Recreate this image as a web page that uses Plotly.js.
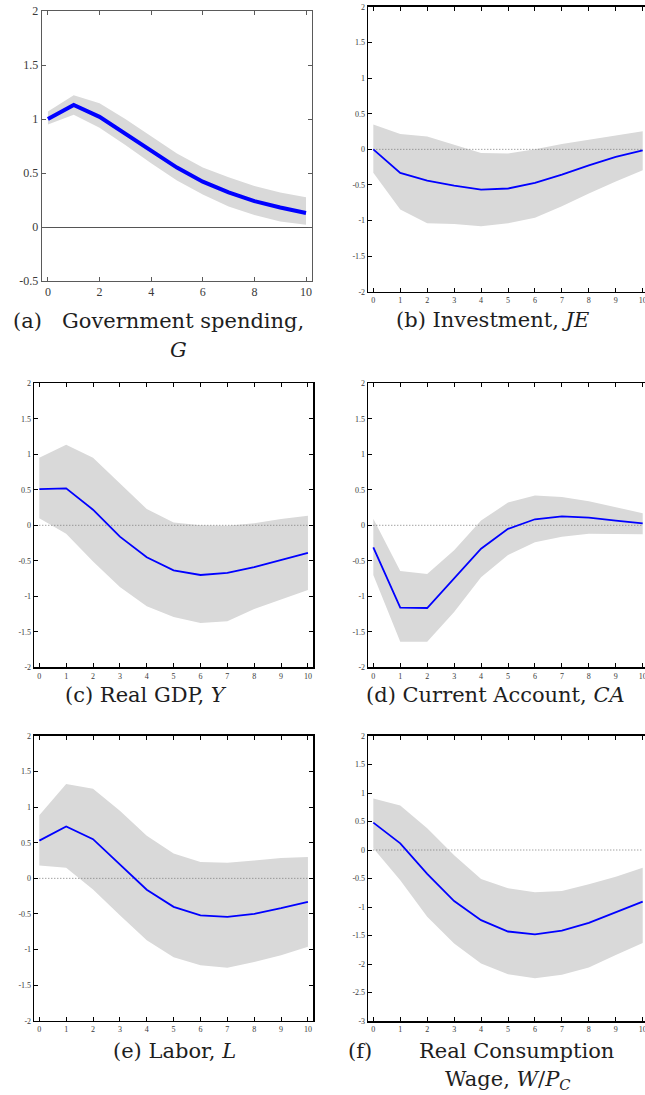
<!DOCTYPE html>
<html>
<head>
<meta charset="utf-8">
<script src="https://cdn.plot.ly/plotly-3.0.1.min.js"></script>
<style>
  html, body { margin: 0; padding: 0; background: #fff; }
  #chart { width: 645px; height: 1095px; }
</style>
</head>
<body>
<div id="chart"></div>
<script>
// ---- data ----
const periods = [0, 1, 2, 3, 4, 5, 6, 7, 8, 9, 10];

const govMid = [1.00, 1.13, 1.02, 0.86, 0.70, 0.55, 0.42, 0.32, 0.24, 0.18, 0.13];
const govUp  = [1.07, 1.22, 1.145, 1.00, 0.84, 0.68, 0.55, 0.46, 0.38, 0.32, 0.275];
const govLo  = [0.95, 1.04, 0.92, 0.76, 0.59, 0.43, 0.30, 0.19, 0.11, 0.05, 0.02];

const invMid = [0.00, -0.33, -0.44, -0.51, -0.565, -0.55, -0.47, -0.355, -0.225, -0.107, -0.014];
const invUp  = [0.35, 0.215, 0.18, 0.065, -0.05, -0.06, 0.00, 0.075, 0.135, 0.205, 0.255];
const invLo  = [-0.33, -0.845, -1.04, -1.05, -1.08, -1.04, -0.96, -0.80, -0.62, -0.45, -0.295];

const gdpMid = [0.51, 0.52, 0.22, -0.16, -0.45, -0.634, -0.70, -0.67, -0.59, -0.49, -0.39];
const gdpUp  = [0.95, 1.135, 0.95, 0.59, 0.23, 0.04, 0.00, -0.005, 0.03, 0.09, 0.135];
const gdpLo  = [0.10, -0.12, -0.51, -0.87, -1.14, -1.29, -1.375, -1.35, -1.18, -1.05, -0.91];

const caMid = [-0.31, -1.16, -1.165, -0.75, -0.33, -0.05, 0.085, 0.127, 0.108, 0.066, 0.028];
const caUp  = [0.094, -0.643, -0.685, -0.35, 0.066, 0.32, 0.42, 0.40, 0.34, 0.25, 0.17];
const caLo  = [-0.70, -1.64, -1.64, -1.22, -0.73, -0.42, -0.24, -0.16, -0.12, -0.12, -0.127];

const labMid = [0.53, 0.73, 0.55, 0.20, -0.16, -0.40, -0.52, -0.54, -0.50, -0.42, -0.33];
const labUp  = [0.885, 1.325, 1.26, 0.95, 0.60, 0.35, 0.23, 0.22, 0.25, 0.285, 0.30];
const labLo  = [0.18, 0.15, -0.155, -0.52, -0.87, -1.11, -1.22, -1.255, -1.175, -1.08, -0.96];

const wageMid = [0.48, 0.117, -0.42, -0.895, -1.23, -1.43, -1.48, -1.415, -1.28, -1.09, -0.905];
const wageUp  = [0.905, 0.78, 0.38, -0.09, -0.51, -0.67, -0.74, -0.72, -0.60, -0.47, -0.31];
const wageLo  = [0.03, -0.53, -1.17, -1.64, -1.99, -2.18, -2.25, -2.19, -2.06, -1.84, -1.63];

// tick labels
const xTickValsA = [0, 2, 4, 6, 8, 10];
const xTickTextA = ["0", "2", "4", "6", "8", "10"];
const xTickTextB = ["0", "1", "2", "3", "4", "5", "6", "7", "8", "9", "10"];
const yTickValsA = [-0.5, 0, 0.5, 1, 1.5, 2];
const yTickTextA = ["-0.5", "0", "0.5", "1", "1.5", "2"];
const yTickValsB = [-2, -1.5, -1, -0.5, 0, 0.5, 1, 1.5, 2];
const yTickTextB = ["-2", "-1.5", "-1", "-0.5", "0", "0.5", "1", "1.5", "2"];
const yTickValsF = [-3, -2.5, -2, -1.5, -1, -0.5, 0, 0.5, 1, 1.5, 2];
const yTickTextF = ["-3", "-2.5", "-2", "-1.5", "-1", "-0.5", "0", "0.5", "1", "1.5", "2"];

// ---- layout helpers ----
const W = 645, H = 1095;
const px = v => v / W;
const py = v => 1 - v / H;

const panels = [
  { mid: govMid, up: govUp, lo: govLo, style: 'a',
    xd: [41.7, 311.7], yd: [11, 281], xr: [-0.24, 10.22], yr: [-0.5, 2],
    xtv: xTickValsA, xtt: xTickTextA, ytv: yTickValsA, ytt: yTickTextA },
  { mid: invMid, up: invUp, lo: invLo, style: 'b',
    xd: [368.3, 645], yd: [7, 291.7], xr: [-0.186, 10.085], yr: [-2, 2],
    xtv: periods, xtt: xTickTextB, ytv: yTickValsB, ytt: yTickTextB, openRight: true },
  { mid: gdpMid, up: gdpUp, lo: gdpLo, style: 'b',
    xd: [34.3, 313.3], yd: [383.3, 667.3], xr: [-0.186, 10.2], yr: [-2, 2],
    xtv: periods, xtt: xTickTextB, ytv: yTickValsB, ytt: yTickTextB },
  { mid: caMid, up: caUp, lo: caLo, style: 'b',
    xd: [368.3, 645], yd: [383.3, 667.3], xr: [-0.186, 10.085], yr: [-2, 2],
    xtv: periods, xtt: xTickTextB, ytv: yTickValsB, ytt: yTickTextB, openRight: true },
  { mid: labMid, up: labUp, lo: labLo, style: 'b',
    xd: [34.3, 313.3], yd: [736, 1020.7], xr: [-0.186, 10.2], yr: [-2, 2],
    xtv: periods, xtt: xTickTextB, ytv: yTickValsB, ytt: yTickTextB },
  { mid: wageMid, up: wageUp, lo: wageLo, style: 'b',
    xd: [368.3, 645], yd: [736, 1021], xr: [-0.186, 10.085], yr: [-3, 2],
    xtv: periods, xtt: xTickTextB, ytv: yTickValsF, ytt: yTickTextF, openRight: true }
];

const tickFont = "Liberation Sans Narrow";
const data = [];
const layout = {
  width: W, height: H,
  margin: { l: 0, r: 0, t: 0, b: 0 },
  paper_bgcolor: '#ffffff', plot_bgcolor: '#ffffff',
  showlegend: false,
  annotations: []
};

panels.forEach((p, i) => {
  const n = i + 1;
  const xa = n === 1 ? 'x' : 'x' + n;
  const ya = n === 1 ? 'y' : 'y' + n;
  const isA = p.style === 'a';

  // confidence band
  data.push({
    type: 'scatter', mode: 'lines', xaxis: xa, yaxis: ya,
    x: periods.concat(periods.slice().reverse()),
    y: p.up.concat(p.lo.slice().reverse()),
    fill: 'toself', fillcolor: '#d9d9d9',
    line: { width: 0, color: 'rgba(0,0,0,0)' },
    hoverinfo: 'skip'
  });
  // dotted zero reference line
  if (!isA) {
    data.push({
      type: 'scatter', mode: 'lines', xaxis: xa, yaxis: ya,
      x: [periods[0], periods[periods.length - 1]], y: [0, 0],
      line: { color: '#7a7a7a', width: 1, dash: '1px,2px' },
      hoverinfo: 'skip'
    });
  }
  // impulse response
  data.push({
    type: 'scatter', mode: 'lines', xaxis: xa, yaxis: ya,
    x: periods, y: p.mid,
    line: { color: '#0000ff', width: isA ? 4 : 1.8 }
  });

  const frameColor = isA ? '#5a5a5a' : '#000000';
  const frameWidth = isA ? 1 : 1.6;
  const fontSize = isA ? 12 : 8;
  const lbl = isA ? 'xaxis' : 'xaxis' + n;
  const lbly = isA ? 'yaxis' : 'yaxis' + n;
  layout[lbl] = {
    domain: [px(p.xd[0]), px(p.xd[1])],
    anchor: ya, range: p.xr, fixedrange: true,
    showgrid: false, zeroline: false,
    showline: true, linecolor: frameColor, linewidth: frameWidth, mirror: 'ticks',
    ticks: 'inside', ticklen: 4, tickwidth: 1, tickcolor: frameColor,
    tickmode: 'array', tickvals: p.xtv, ticktext: p.xtt,
    ticklabeloverflow: 'allow',
    tickfont: { family: tickFont, size: fontSize, color: '#3a3a3a' }
  };
  layout[lbly] = {
    domain: [py(p.yd[1]), py(p.yd[0])],
    anchor: xa, range: p.yr, fixedrange: true,
    showgrid: false,
    zeroline: isA, zerolinecolor: '#555555', zerolinewidth: 1,
    showline: true, linecolor: frameColor, linewidth: frameWidth,
    mirror: p.openRight ? false : 'ticks',
    ticks: 'inside', ticklen: 4, tickwidth: 1, tickcolor: frameColor,
    tickmode: 'array', tickvals: p.ytv, ticktext: p.ytt,
    ticklabeloverflow: 'allow',
    tickfont: { family: tickFont, size: fontSize, color: '#3a3a3a' }
  };
});

// ---- captions ----
const capFont = { family: 'DejaVu Serif', size: 21, color: '#1e1e1e' };
const captions = [
  { t: '(a)', x: 27, y: 321 },
  { t: 'Government spending,', x: 183, y: 321 },
  { t: '<i>G</i>', x: 178, y: 350 },
  { t: '(b) Investment, <i>JE</i>', x: 492, y: 320 },
  { t: '(c) Real GDP, <i>Y</i>', x: 146, y: 695 },
  { t: '(d) Current Account, <i>CA</i>', x: 495, y: 695 },
  { t: '(e) Labor, <i>L</i>', x: 174, y: 1051 },
  { t: '(f)', x: 360, y: 1051 },
  { t: 'Real Consumption', x: 516, y: 1051 },
  { t: 'Wage, <i>W</i>/<i>P</i><sub><i>C</i></sub>', x: 508, y: 1080 }
];
captions.forEach(c => {
  layout.annotations.push({
    xref: 'paper', yref: 'paper', x: px(c.x), y: py(c.y),
    xanchor: 'center', yanchor: 'middle', showarrow: false,
    text: c.t, font: capFont
  });
});

Plotly.newPlot('chart', data, layout, { staticPlot: true, displayModeBar: false });
</script>
</body>
</html>
